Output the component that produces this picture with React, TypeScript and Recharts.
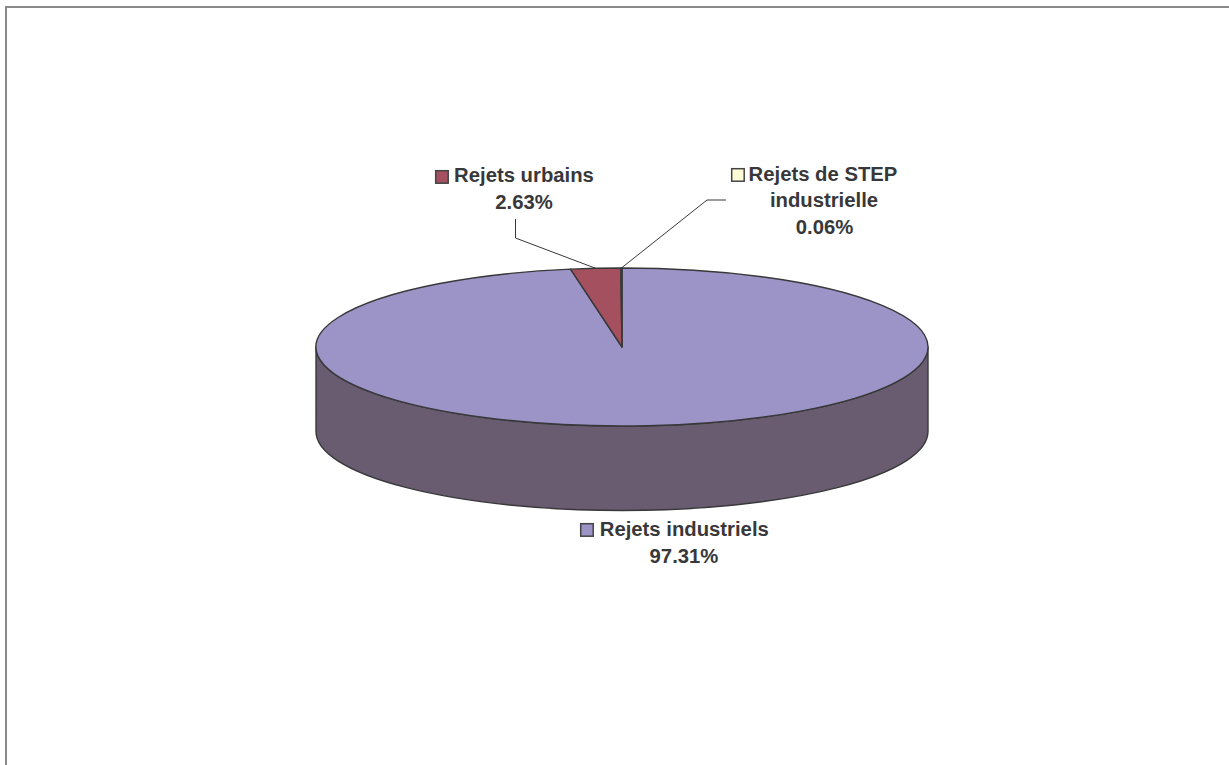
import { PieChart, Pie, Cell } from "recharts";

const categories = ["Rejets industriels", "Rejets urbains", "Rejets de STEP"];
const values = [97.31, 2.63, 0.06];
const topColors = ["#9C94C6", "#A5505F", "#FFFBD6"];
const wallColors = ["#695C70", "#6B3A42", "#8F8C70"];

const chartData = categories.map((name, i) => ({ name, value: values[i] }));

// label boxes, in chart pixels
const labelLayout = [
  { keyX: 580.7, keyY: 523.7, lines: [[684.3, 536], [684, 563]], elbow: null },
  { keyX: 435.7, keyY: 170.7, lines: [[524, 182], [524, 209]], elbow: [[515.5, 238], [515.5, 219]] },
  { keyX: 731.7, keyY: 168.7, lines: [[823, 181], [824, 207], [824.5, 233.5]], elbow: [[707, 200], [726, 200]] },
];

const W = 1229;
const H = 765;
const CX = 622;
const CY = 347;
const RX = 306;
const RY = 79;
const DEPTH = 84.5;
const LINE = "#38383A";
const TEXT = "#38383A";

const rad = (a: number) => (a * Math.PI) / 180;
const px = (a: number, rx: number, cx: number) => cx + rx * Math.cos(rad(a));
const py = (a: number, ry: number, cy: number) => cy - ry * Math.sin(rad(a));

// flattened sector: the pie's own angles projected on an ellipse
const TopSlice = (props: any) => {
  const { cx, cy, outerRadius, startAngle, endAngle, fill } = props;
  const ry = (outerRadius * RY) / RX;
  const large = Math.abs(endAngle - startAngle) > 180 ? 1 : 0;
  const d = `M${cx},${cy} L${px(startAngle, outerRadius, cx)},${py(startAngle, ry, cy)} A${outerRadius},${ry} 0 ${large} 1 ${px(endAngle, outerRadius, cx)},${py(endAngle, ry, cy)} Z`;
  return <path d={d} fill={fill} stroke={LINE} strokeWidth={1.4} strokeLinejoin="round" />;
};

// side of the disc, only where a slice faces the front
const WallSlice = (props: any) => {
  const { cx, cy, outerRadius, startAngle, endAngle, fill } = props;
  const ry = (outerRadius * RY) / RX;
  const hi = Math.min(Math.max(startAngle, endAngle), 0);
  const lo = Math.max(Math.min(startAngle, endAngle), -180);
  if (hi <= lo) return null;
  const d = `M${px(lo, outerRadius, cx)},${py(lo, ry, cy)} A${outerRadius},${ry} 0 0 0 ${px(hi, outerRadius, cx)},${py(hi, ry, cy)} L${px(hi, outerRadius, cx)},${py(hi, ry, cy + DEPTH)} A${outerRadius},${ry} 0 0 1 ${px(lo, outerRadius, cx)},${py(lo, ry, cy + DEPTH)} Z`;
  return <path d={d} fill={fill} stroke={LINE} strokeWidth={1.4} strokeLinejoin="round" />;
};

const SliceLabel = (props: any) => {
  const { cx, cy, outerRadius, index, midAngle } = props;
  const box = labelLayout[index];
  const ry = (outerRadius * RY) / RX;
  const name = categories[index];
  const pct = `${values[index].toFixed(2)}%`;
  const rows = index === 2 ? ["Rejets de STEP", "industrielle", pct] : [name, pct];
  const sx = px(midAngle, outerRadius, cx);
  const sy = py(midAngle, ry, cy);
  return (
    <g>
      {box.elbow && (
        <polyline
          points={`${sx},${sy} ${box.elbow[0].join(",")} ${box.elbow[1].join(",")}`}
          fill="none"
          stroke={LINE}
          strokeWidth={1}
        />
      )}
      <rect x={box.keyX} y={box.keyY} width={12.5} height={12.5} fill={topColors[index]} stroke="#444444" strokeWidth={1.5} />
      {rows.map((row, i) => (
        <text
          key={row}
          x={box.lines[i][0]}
          y={box.lines[i][1]}
          textAnchor="middle"
          fontFamily="'Liberation Sans', Arial, sans-serif"
          fontWeight="bold"
          fontSize={20.3}
          fill={TEXT}
        >
          {row}
        </text>
      ))}
    </g>
  );
};

export default function App() {
  return (
    <div style={{ position: "absolute", left: 0, top: 0, width: W, height: H, background: "#fff", overflow: "hidden" }}>
      <div
        style={{
          position: "absolute",
          left: 5,
          top: 6,
          right: 0,
          bottom: 0,
          borderLeft: "2px solid #8a8a8a",
          borderTop: "2px solid #8a8a8a",
        }}
      />
      <div style={{ position: "absolute", left: 0, top: 0 }}>
        <PieChart width={W} height={H} margin={{ top: 0, right: 0, bottom: 0, left: 0 }}>
          <Pie
            data={chartData}
            dataKey="value"
            cx={CX}
            cy={CY}
            innerRadius={0}
            outerRadius={RX}
            startAngle={90}
            endAngle={-270}
            stroke="none"
            shape={WallSlice}
            isAnimationActive={false}
          >
            {chartData.map((d, i) => (
              <Cell key={d.name} fill={wallColors[i]} />
            ))}
          </Pie>
          <Pie
            data={chartData}
            dataKey="value"
            cx={CX}
            cy={CY}
            innerRadius={0}
            outerRadius={RX}
            startAngle={90}
            endAngle={-270}
            stroke="none"
            shape={TopSlice}
            label={SliceLabel}
            labelLine={false}
            isAnimationActive={false}
          >
            {chartData.map((d, i) => (
              <Cell key={d.name} fill={topColors[i]} />
            ))}
          </Pie>
        </PieChart>
      </div>
    </div>
  );
}
